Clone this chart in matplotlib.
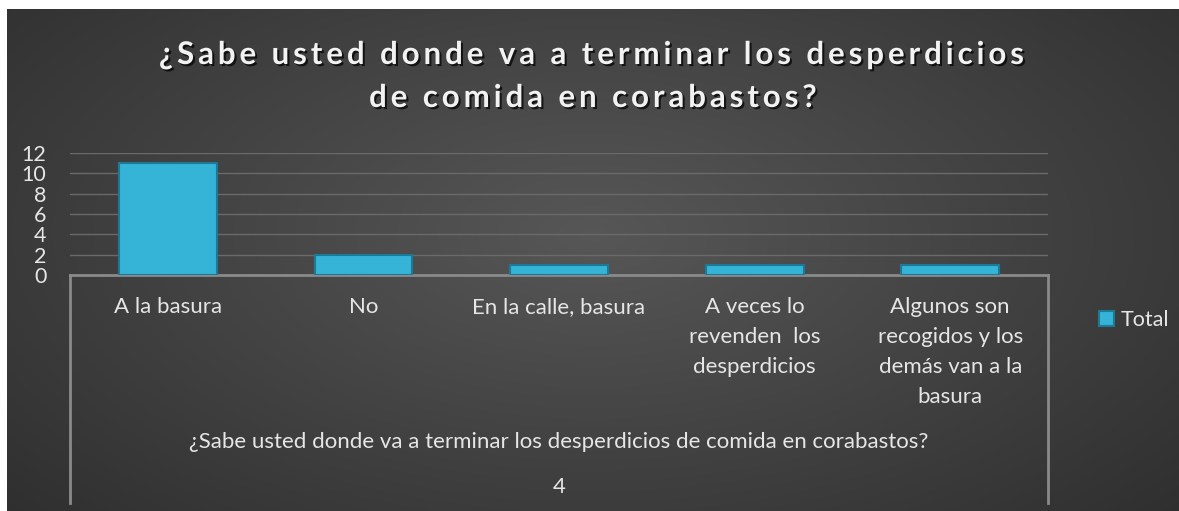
import matplotlib
matplotlib.use('Agg')
import matplotlib.pyplot as plt
import matplotlib.patheffects as pe
import numpy as np

categorias = ['A la basura', 'No', 'En la calle, basura',
              'A veces lo\nrevenden  los\ndesperdicios',
              'Algunos son\nrecogidos y los\ndemás van a la\nbasura']
total = [11, 2, 1, 1, 1]
titulo = ['¿Sabe usted donde va a terminar los desperdicios', 'de comida en corabastos?']
eje_x = '¿Sabe usted donde va a terminar los desperdicios de comida en corabastos?'
nota = '4'

W, H = 1179, 511
plt.rcParams['font.family'] = ['Lato', 'DejaVu Sans']
fig = plt.figure(figsize=(W / 100, H / 100), dpi=100, facecolor='white')

def fx(x):
    return x / W

def fy(y):
    return 1 - y / H

# fondo oscuro con degradado radial
bg = fig.add_axes([fx(7), 0, 1 - fx(7), fy(9)])
yy, xx = np.mgrid[0:1:300j, 0:1:600j]
r = np.sqrt(((xx - 0.5) / 0.75) ** 2 + ((yy - 0.55) / 0.9) ** 2)
r = np.clip(r, 0, 1)
g = 0.34 - 0.17 * r
img = np.dstack([g, g, g])
bg.imshow(img, aspect='auto', extent=[0, 1, 0, 1], origin='lower')
bg.set_axis_off()

# recuadro de categorías
for x0 in (70, 1048):
    fig.add_artist(plt.Line2D([fx(x0), fx(x0)], [fy(275), fy(503)], color='#8a8a8a', lw=2))

ax = fig.add_axes([fx(70), fy(275), fx(1048) - fx(70), fy(153) - fy(275)])
ax.set_facecolor('none')
x = np.arange(len(categorias))
barras = ax.bar(x, total, width=0.5, color='#35b4d8', edgecolor='#1d7a96', linewidth=1.5,
                label='Total', zorder=3)
ax.set_xlim(-0.5, len(categorias) - 0.5)
ax.set_ylim(0, 12)
ax.set_yticks(np.arange(0, 13, 2))
ax.grid(axis='y', color='#6a6a6a', lw=1, zorder=0)
for s in ['top', 'right', 'left']:
    ax.spines[s].set_visible(False)
ax.spines['bottom'].set_color('#8a8a8a')
ax.spines['bottom'].set_linewidth(2)
ax.set_xticks(x)
ax.set_xticklabels(categorias, fontsize=16, color='#e6e6e6', linespacing=1.62, va='top')
ax.tick_params(axis='x', length=0, pad=16)
ax.tick_params(axis='y', length=0, pad=17, labelsize=15.5, labelcolor='#e6e6e6')

fig.text(fx(559), fy(442), eje_x, fontsize=16, color='#e6e6e6', ha='center', va='center')
fig.text(fx(559), fy(487), nota, fontsize=16, color='#e6e6e6', ha='center', va='center')

# título con espaciado entre letras
sombra = [pe.withSimplePatchShadow(offset=(1.5, -1.5), shadow_rgbFace='black', alpha=0.7)]
for linea, yl in zip(titulo, (55, 98)):
    espaciado = '\u200a\u200a'.join(linea)
    t = fig.text(fx(594), fy(yl), espaciado, fontsize=22.5, fontweight='bold', color='#f2f2f2',
                 ha='center', va='center')
    t.set_path_effects(sombra)

leg = fig.legend(handles=[barras], labels=['Total'], loc='center left',
                 bbox_to_anchor=(fx(1080), fy(320)), frameon=False, fontsize=15.5,
                 handlelength=0.7, handleheight=0.7, handletextpad=0.3)
for txt in leg.get_texts():
    txt.set_color('#e6e6e6')

fig.savefig('out.png', dpi=100, facecolor='white')
